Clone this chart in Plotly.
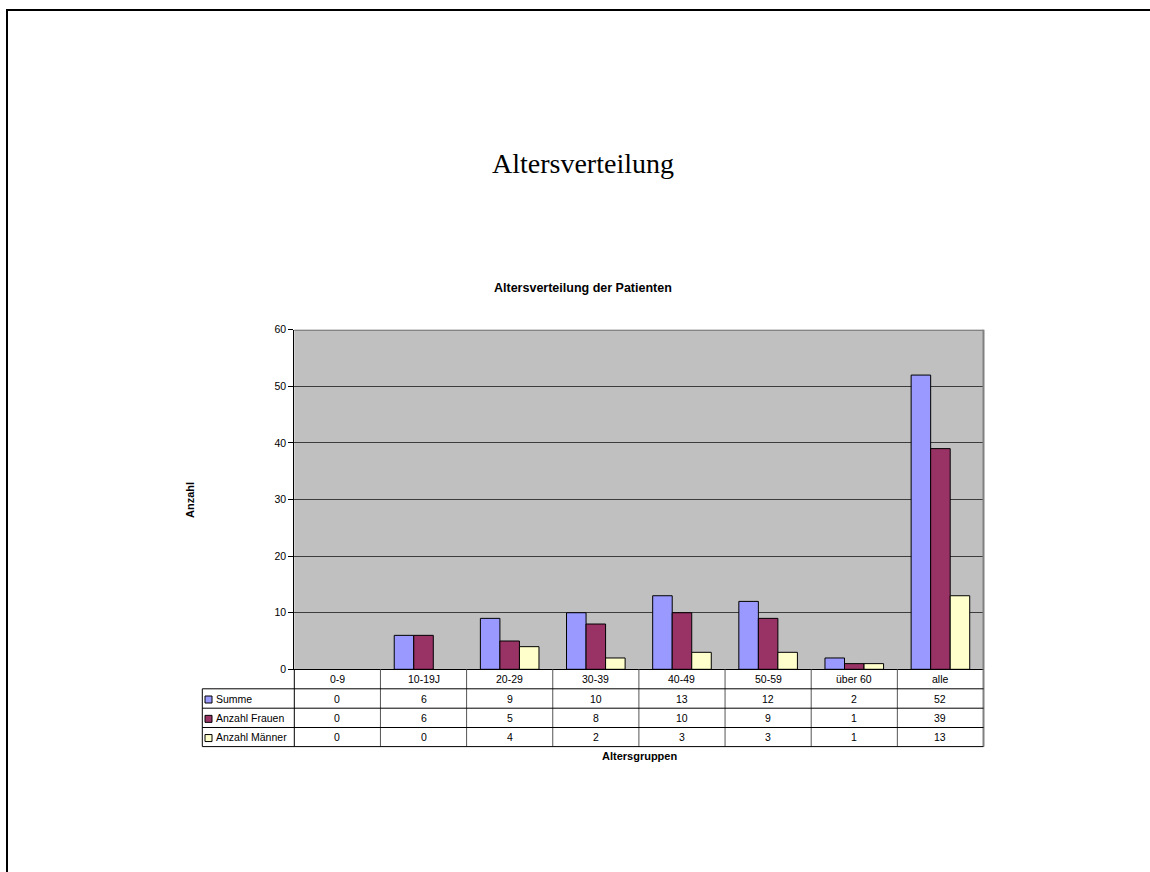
import plotly.graph_objects as go

# ---- data ----
categories = ["0-9", "10-19J", "20-29", "30-39", "40-49", "50-59", "über 60", "alle"]
summe = [0, 6, 9, 10, 13, 12, 2, 52]
frauen = [0, 6, 5, 8, 10, 9, 1, 39]
maenner = [0, 0, 4, 2, 3, 3, 1, 13]
series_names = ["Summe", "Anzahl Frauen", "Anzahl Männer"]
series_values = [summe, frauen, maenner]
series_colors = ["#9999FF", "#993366", "#FFFFCC"]
y_ticks = [0, 10, 20, 30, 40, 50, 60]

W, H = 1150, 872
SANS = "Liberation Sans, Arial, sans-serif"
SERIF = "Liberation Serif, Times New Roman, serif"


def px(x):
    return x / W


def py(y):
    return 1 - y / H


x_left, x_right = 294.3, 983.5
y_top, y_bot = 329.8, 669.3
rows = [669.3, 688.8, 708.2, 727.5, 746.6]
legend_left = 202.3

fig = go.Figure()
for name, vals, col in zip(series_names, series_values, series_colors):
    fig.add_trace(go.Bar(
        x=categories, y=vals, name=name,
        marker=dict(color=col,
                    line=dict(color="black", width=[0 if v == 0 else 1 for v in vals])),
    ))

fig.update_layout(
    width=W, height=H,
    margin=dict(l=0, r=0, t=0, b=0, pad=0, autoexpand=False),
    paper_bgcolor="white",
    plot_bgcolor="#C0C0C0",
    barmode="group", bargap=0.32, bargroupgap=0,
    showlegend=False,
    font=dict(family=SANS, size=10, color="black"),
)
fig.update_xaxes(
    domain=[px(x_left), px(x_right)],
    range=[-0.5, len(categories) - 0.5],
    showticklabels=False, ticks="", showgrid=False,
    showline=True, linecolor="black", linewidth=1,
    zeroline=False, fixedrange=True, automargin=False,
)
fig.update_yaxes(
    domain=[py(y_bot), py(y_top)],
    range=[0, 60], tickvals=y_ticks,
    showgrid=True, gridcolor="#3c3c3c", gridwidth=1,
    showline=True, linecolor="black", linewidth=1,
    ticks="outside", ticklen=5, tickcolor="black",
    tickfont=dict(family=SANS, size=10.5, color="black"),
    zeroline=False, fixedrange=True, automargin=False,
)

shapes = []
annotations = []

# page border (top and left)
shapes.append(dict(type="line", xref="paper", yref="paper",
                   x0=px(6), x1=1, y0=py(10), y1=py(10),
                   line=dict(color="black", width=2)))
shapes.append(dict(type="line", xref="paper", yref="paper",
                   x0=px(7), x1=px(7), y0=py(9), y1=0,
                   line=dict(color="black", width=2)))

# plot area border (top & right)
shapes.append(dict(type="line", xref="x domain", yref="y",
                   x0=0, x1=1, y0=60, y1=60,
                   line=dict(color="#707070", width=2)))
shapes.append(dict(type="line", xref="x domain", yref="paper",
                   x0=1, x1=1, y0=py(y_bot), y1=py(y_top),
                   line=dict(color="#808080", width=2)))

# table vertical lines
n = len(categories)
for i in range(n + 1):
    if i == 0:
        col, w = "black", 1
    elif i == n:
        col, w = "#808080", 2
    else:
        col, w = "#555555", 1
    shapes.append(dict(type="line", xref="x domain", yref="paper",
                       x0=i / n, x1=i / n, y0=py(rows[0]), y1=py(rows[-1]),
                       line=dict(color=col, width=w)))
# legend column left border
shapes.append(dict(type="line", xref="paper", yref="paper",
                   x0=px(legend_left), x1=px(legend_left),
                   y0=py(rows[1]), y1=py(rows[-1]),
                   line=dict(color="black", width=1)))
# table horizontal lines
for r in rows[1:]:
    shapes.append(dict(type="line", xref="paper", yref="paper",
                       x0=px(legend_left), x1=px(x_right), y0=py(r), y1=py(r),
                       line=dict(color="black", width=1)))

# header row (categories)
hc = (rows[0] + rows[1]) / 2
for cat in categories:
    annotations.append(dict(x=cat, xref="x", y=py(hc), yref="paper",
                            text=cat, showarrow=False,
                            xanchor="center", yanchor="middle",
                            font=dict(family=SANS, size=10.5, color="black")))

# data rows
for k, (name, vals, col) in enumerate(zip(series_names, series_values, series_colors)):
    rc = (rows[k + 1] + rows[k + 2]) / 2
    for cat, v in zip(categories, vals):
        annotations.append(dict(x=cat, xref="x", y=py(rc), yref="paper",
                                text=str(v), showarrow=False,
                                xanchor="center", yanchor="middle",
                                font=dict(family=SANS, size=10.5, color="black")))
    # legend key
    shapes.append(dict(type="rect", xref="paper", yref="paper",
                       x0=px(205), x1=px(212), y0=py(rc + 4.5), y1=py(rc - 2.5),
                       fillcolor=col, line=dict(color="black", width=1)))
    annotations.append(dict(x=px(214), xref="paper", y=py(rc), yref="paper",
                            text=name, showarrow=False,
                            xanchor="left", yanchor="middle",
                            font=dict(family=SANS, size=10.5, color="black")))

# titles
annotations.append(dict(x=px(583), y=py(163), xref="paper", yref="paper",
                        text="Altersverteilung", showarrow=False,
                        xanchor="center", yanchor="middle",
                        font=dict(family=SERIF, size=28, color="black")))
annotations.append(dict(x=px(583), y=py(288), xref="paper", yref="paper",
                        text="<b>Altersverteilung der Patienten</b>", showarrow=False,
                        xanchor="center", yanchor="middle",
                        font=dict(family=SANS, size=12.5, color="black")))
annotations.append(dict(x=px(190), y=py(500), xref="paper", yref="paper",
                        text="<b>Anzahl</b>", showarrow=False, textangle=-90,
                        xanchor="center", yanchor="middle",
                        font=dict(family=SANS, size=11, color="black")))
annotations.append(dict(x=px(639), y=py(756), xref="paper", yref="paper",
                        text="<b>Altersgruppen</b>", showarrow=False,
                        xanchor="center", yanchor="middle",
                        font=dict(family=SANS, size=11, color="black")))

fig.update_layout(shapes=shapes, annotations=annotations)

fig.write_html("out.html")
